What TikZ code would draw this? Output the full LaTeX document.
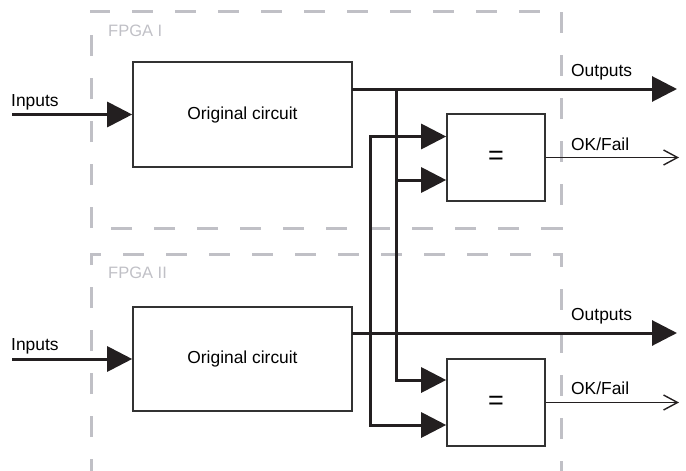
\documentclass[tikz,border=0pt]{standalone}
\usepackage{fontspec}
\setmainfont{Liberation Sans}
\usetikzlibrary{arrows.meta}
\definecolor{fpgagray}{RGB}{192,192,198}
\definecolor{ink}{RGB}{35,31,32}
\definecolor{boxline}{RGB}{50,50,50}
\tikzset{
  fpga/.style={draw=fpgagray,line width=3pt,dash pattern=on 21pt off 22pt},
  fpgalabel/.style={text=fpgagray,anchor=base west,inner sep=0pt,font=\fontsize{16.5}{19}\selectfont},
  block/.style={draw=boxline,line width=1.6pt,fill=white,inner sep=0pt,font=\fontsize{17.4}{20}\selectfont},
  sig/.style={draw=ink,line width=3pt},
  bigarrow/.style={-{Triangle[length=25pt,width=25pt]}},
  thinsig/.style={draw=ink,line width=1.4pt,-{Straight Barb[length=14pt,width=15pt,line width=1.4pt]}},
  lab/.style={anchor=base west,inner sep=0pt,font=\fontsize{17.4}{20}\selectfont},
}
\begin{document}
\begin{tikzpicture}[x=1pt,y=-1pt,line join=miter]
\useasboundingbox (0,0) rectangle (686,471);
% FPGA regions
\draw[fpga] (91,228) -- (91,11) -- (561,11) -- (561,228) -- cycle;
\begin{scope}
\clip (0,0) rectangle (686,471);
\draw[fpga] (91,480) -- (91,254) -- (561,254) -- (561,480);
\end{scope}
\node[fpgalabel] (f1) at (108,36) {FPGA I};
\node[fpgalabel] (f2) at (108,278) {FPGA II};
% blocks
\node[block,minimum width=219pt,minimum height=105pt] (oc1) at (242.5,114.5) {Original circuit};
\node[block,minimum width=219pt,minimum height=104pt] (oc2) at (242.5,359) {Original circuit};
\node[block,minimum width=98pt,minimum height=87pt,font=\fontsize{27}{30}\selectfont] (eq1) at (496,157.5) {=};
\node[block,minimum width=98pt,minimum height=87pt,font=\fontsize{27}{30}\selectfont] (eq2) at (496,402.5) {=};
% coordinates
\coordinate (in1) at (12,114.5);
\coordinate (in2) at (12,359);
\coordinate (o1) at (352,89);
\coordinate (o2) at (352,333);
\coordinate (out1) at (677,89);
\coordinate (out2) at (677,333);
\coordinate (ok1) at (679,157.5);
\coordinate (ok2) at (679,402.5);
\coordinate (e1a) at ([yshift=21pt]eq1.west);
\coordinate (e1b) at ([yshift=-22.5pt]eq1.west);
\coordinate (e2a) at ([yshift=22.5pt]eq2.west);
\coordinate (e2b) at ([yshift=-22.5pt]eq2.west);
\coordinate (v1) at (396,89);
\coordinate (v1s) at (359,89.8);
\coordinate (v2) at (370,136.5);
% inputs
\draw[sig,bigarrow] (in1) -- (oc1.west);
\draw[sig,bigarrow] (in2) -- (oc2.west);
\node[lab] (li1) at (11,106) {Inputs};
\node[lab] (li2) at (11,350) {Inputs};
% outputs
\draw[sig,bigarrow] (o1) -- (out1);
\draw[sig,bigarrow] (o2) -- (out2);
\node[lab] (lo1) at (571,76) {Outputs};
\node[lab] (lo2) at (571,320) {Outputs};
% branch from circuit 1
\draw[sig] (v1s) -- (v1 |- v1s);
\draw[sig,bigarrow] (v1) -- (v1 |- e2a) -- (e2a);
\draw[sig,bigarrow] (v1 |- e1b) -- (e1b);
% branch from circuit 2
\draw[sig,bigarrow] (v2 |- e2b) -- (v2) -- (e1a);
\draw[sig,bigarrow] (v2) -- (v2 |- e2b) -- (e2b);
% ok/fail
\draw[thinsig] (eq1.east) -- (ok1);
\draw[thinsig] (eq2.east) -- (ok2);
\node[lab] (lk1) at (571,150) {OK/Fail};
\node[lab] (lk2) at (571,394) {OK/Fail};
\end{tikzpicture}
\end{document}
